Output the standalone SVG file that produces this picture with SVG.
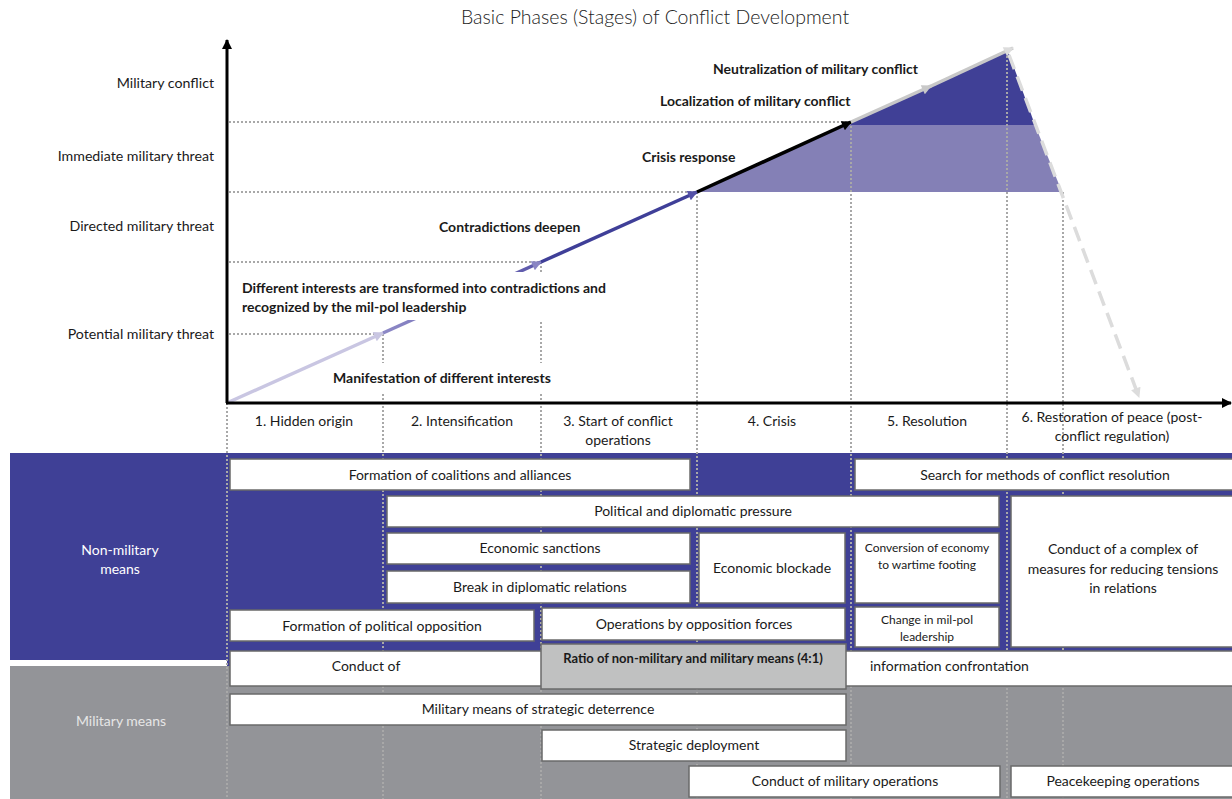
<svg xmlns="http://www.w3.org/2000/svg" width="1232" height="799" viewBox="0 0 1232 799">
<style>
text{font-family:Lato,"Liberation Sans",sans-serif;fill:#1a1a1a}
.t{font-size:14px}
.ax{font-size:14.2px;text-anchor:end}
.b{font-size:14px;font-weight:bold}
.c{text-anchor:middle}
.sm{font-size:12px}
.box{fill:#fff;stroke:#6a6a6a;stroke-width:1.5}
.dot{stroke:#a8a8a8;stroke-width:2;stroke-dasharray:2 2;fill:none}
</style>
<defs>
<marker id="ahBlack" viewBox="0 0 10 10" refX="9" refY="5" markerWidth="12" markerHeight="10" markerUnits="userSpaceOnUse" orient="auto"><path d="M0,0 L10,5 L0,10 z" fill="#000"/></marker>
<marker id="ahLav" viewBox="0 0 10 10" refX="9" refY="5" markerWidth="12" markerHeight="10" markerUnits="userSpaceOnUse" orient="auto"><path d="M0,0 L10,5 L0,10 z" fill="#c9c6e2"/></marker>
<marker id="ahMid" viewBox="0 0 10 10" refX="9" refY="5" markerWidth="12" markerHeight="10" markerUnits="userSpaceOnUse" orient="auto"><path d="M0,0 L10,5 L0,10 z" fill="#8985c3"/></marker>
<marker id="ahBlue" viewBox="0 0 10 10" refX="9" refY="5" markerWidth="12" markerHeight="10" markerUnits="userSpaceOnUse" orient="auto"><path d="M0,0 L10,5 L0,10 z" fill="#5552a8"/></marker>
<marker id="ahGray" viewBox="0 0 10 10" refX="9" refY="5" markerWidth="12" markerHeight="10" markerUnits="userSpaceOnUse" orient="auto"><path d="M0,0 L10,5 L0,10 z" fill="#c8c8c8"/></marker>
<marker id="ahLight" viewBox="0 0 10 10" refX="9" refY="5" markerWidth="12" markerHeight="10" markerUnits="userSpaceOnUse" orient="auto"><path d="M0,0 L10,5 L0,10 z" fill="#dcdcdc"/></marker>
<linearGradient id="g2" x1="383" y1="333" x2="541" y2="262" gradientUnits="userSpaceOnUse"><stop offset="0" stop-color="#8d89c6"/><stop offset="1" stop-color="#5b57aa"/></linearGradient>
</defs>
<rect width="1232" height="799" fill="#fff"/>

<text x="655" y="24" class="c" style="font-size:19.5px;font-weight:300;fill:#222">Basic Phases (Stages) of Conflict Development</text>

<!-- bands -->
<g id="bands">
<rect x="10" y="453" width="1222" height="207" fill="#3f4096"/>
<rect x="227" y="660" width="1005" height="6" fill="#3f4096"/>
<rect x="10" y="666" width="1222" height="133" fill="#939498"/>
<text x="120" y="555" class="t c" style="fill:#fff">Non-military</text>
<text x="120" y="574" class="t c" style="fill:#fff">means</text>
<text x="121" y="726" class="t c" style="fill:#e6e6e6">Military means</text>
</g>

<!-- fills -->
<polygon points="697,192 851,122 1035,125 1062,192" fill="#8480b6"/>
<polygon points="851,122 1008,51 1035,125 851,125" fill="#404096"/>

<!-- guide lines -->
<g id="guides">
<line class="dot" x1="229" y1="122" x2="851" y2="122"/>
<line class="dot" x1="229" y1="192" x2="697" y2="192"/>
<line class="dot" x1="229" y1="262" x2="541" y2="262"/>
<line class="dot" x1="229" y1="334" x2="383" y2="334"/>
<line class="dot" x1="227" y1="403" x2="227" y2="799"/>
<line class="dot" x1="383" y1="334" x2="383" y2="799"/>
<line class="dot" x1="541" y1="262" x2="541" y2="799"/>
<line class="dot" x1="697" y1="192" x2="697" y2="799"/>
<line class="dot" x1="851" y1="122" x2="851" y2="799"/>
<line class="dot" x1="1007" y1="56" x2="1007" y2="799"/>
<line class="dot" x1="1063" y1="192" x2="1063" y2="799"/>
</g>

<!-- connectors -->
<g id="connectors">
<line x1="229" y1="402" x2="383" y2="333" stroke="#c9c6e2" stroke-width="3.5" marker-end="url(#ahLav)"/>
<line x1="383" y1="333" x2="541" y2="262" stroke="url(#g2)" stroke-width="3.5" marker-end="url(#ahMid)"/>
<line x1="541" y1="262" x2="697" y2="192" stroke="#3f3f98" stroke-width="3.5" marker-end="url(#ahBlue)"/>
<line x1="697" y1="192" x2="851" y2="122" stroke="#000" stroke-width="3.5" marker-end="url(#ahBlack)"/>
<line x1="851" y1="122" x2="931" y2="86" stroke="#c8c8c8" stroke-width="3.5" marker-end="url(#ahGray)"/>
<line x1="929" y1="87" x2="1013" y2="48" stroke="#c8c8c8" stroke-width="3.5" marker-end="url(#ahLight)"/>
<line x1="1009" y1="55" x2="1139" y2="397" stroke="#dcdcdc" stroke-width="3.5" stroke-dasharray="15 8" marker-end="url(#ahLight)"/>
<line x1="227" y1="403" x2="227" y2="40" stroke="#000" stroke-width="3" marker-end="url(#ahBlack)"/>
<line x1="226" y1="403" x2="1231" y2="403" stroke="#000" stroke-width="3" marker-end="url(#ahBlack)"/>
</g>

<!-- axis labels -->
<g id="ylabels">
<text x="214" y="88" class="ax">Military conflict</text>
<text x="214" y="161" class="ax">Immediate military threat</text>
<text x="214" y="231" class="ax">Directed military threat</text>
<text x="214" y="339" class="ax">Potential military threat</text>
</g>

<!-- stage labels on chart -->
<g id="stageLabels">
<text x="713" y="74" class="b">Neutralization of military conflict</text>
<text x="660" y="106" class="b">Localization of military conflict</text>
<text x="642" y="162" class="b">Crisis response</text>
<text x="439" y="232" class="b">Contradictions deepen</text>
<rect x="237" y="272" width="376" height="48" fill="#fff"/>
<text x="242" y="293" class="b">Different interests are transformed into contradictions and</text>
<text x="242" y="312" class="b">recognized by the mil-pol leadership</text>
<rect x="328" y="363" width="230" height="30" fill="#fff"/>
<text x="333" y="383" class="b">Manifestation of different interests</text>
</g>

<!-- phase labels -->
<g id="phases">
<text x="304" y="426" class="t c">1. Hidden origin</text>
<text x="462" y="426" class="t c">2. Intensification</text>
<text x="618" y="426" class="t c">3. Start of conflict</text>
<text x="618" y="445" class="t c">operations</text>
<text x="772" y="426" class="t c">4. Crisis</text>
<text x="927" y="426" class="t c">5. Resolution</text>
<text x="1112" y="422" class="t c">6. Restoration of peace (post-</text>
<text x="1112" y="441" class="t c">conflict regulation)</text>
</g>

<!-- nodes -->
<g id="n1"><rect class="box" x="230" y="459" width="460" height="31"/><text x="460" y="480" class="t c">Formation of coalitions and alliances</text></g>
<g id="n2"><rect class="box" x="855" y="459" width="380" height="31"/><text x="1045" y="480" class="t c">Search for methods of conflict resolution</text></g>
<g id="n3"><rect class="box" x="387" y="496" width="612" height="31"/><text x="693" y="516" class="t c">Political and diplomatic pressure</text></g>
<g id="n4"><rect class="box" x="387" y="533" width="303" height="31"/><text x="540" y="553" class="t c">Economic sanctions</text></g>
<g id="n5"><rect class="box" x="387" y="571" width="303" height="32"/><text x="540" y="592" class="t c">Break in diplomatic relations</text></g>
<g id="n6"><rect class="box" x="699" y="533" width="146" height="70"/><text x="772" y="573" class="t c">Economic blockade</text></g>
<g id="n7"><rect class="box" x="855" y="533" width="144" height="70"/><text x="927" y="552" class="t c sm">Conversion of economy</text><text x="927" y="569" class="t c sm">to wartime footing</text></g>
<g id="n8"><rect class="box" x="855" y="607" width="144" height="40"/><text x="927" y="624" class="t c sm">Change in mil-pol</text><text x="927" y="641" class="t c sm">leadership</text></g>
<g id="n9"><rect class="box" x="1011" y="496" width="224" height="151"/><text x="1123" y="554" class="t c">Conduct of a complex of</text><text x="1123" y="574" class="t c">measures for reducing tensions</text><text x="1123" y="593" class="t c">in relations</text></g>
<g id="n10"><rect class="box" x="230" y="610" width="304" height="31"/><text x="382" y="631" class="t c">Formation of political opposition</text></g>
<g id="n11"><rect class="box" x="542" y="608" width="303" height="32"/><text x="694" y="629" class="t c">Operations by opposition forces</text></g>
<g id="n12"><rect class="box" x="230" y="651" width="1005" height="35"/><text x="366" y="671" class="t c">Conduct of</text><text x="870" y="671" class="t">information confrontation</text></g>
<g id="n13"><rect x="541" y="644" width="305" height="45" fill="#c0c1c1" stroke="#6a6a6a" stroke-width="1.5"/><text x="693" y="663" class="b c" style="font-size:13px">Ratio of non-military and military means (4:1)</text></g>
<g id="n14"><rect class="box" x="230" y="694" width="616" height="31"/><text x="538" y="714" class="t c">Military means of strategic deterrence</text></g>
<g id="n15"><rect class="box" x="542" y="730" width="304" height="31"/><text x="694" y="750" class="t c">Strategic deployment</text></g>
<g id="n16"><rect class="box" x="689" y="766" width="311" height="31"/><text x="845" y="786" class="t c">Conduct of military operations</text></g>
<g id="n17"><rect class="box" x="1011" y="766" width="224" height="31"/><text x="1123" y="786" class="t c">Peacekeeping operations</text></g>
</svg>
